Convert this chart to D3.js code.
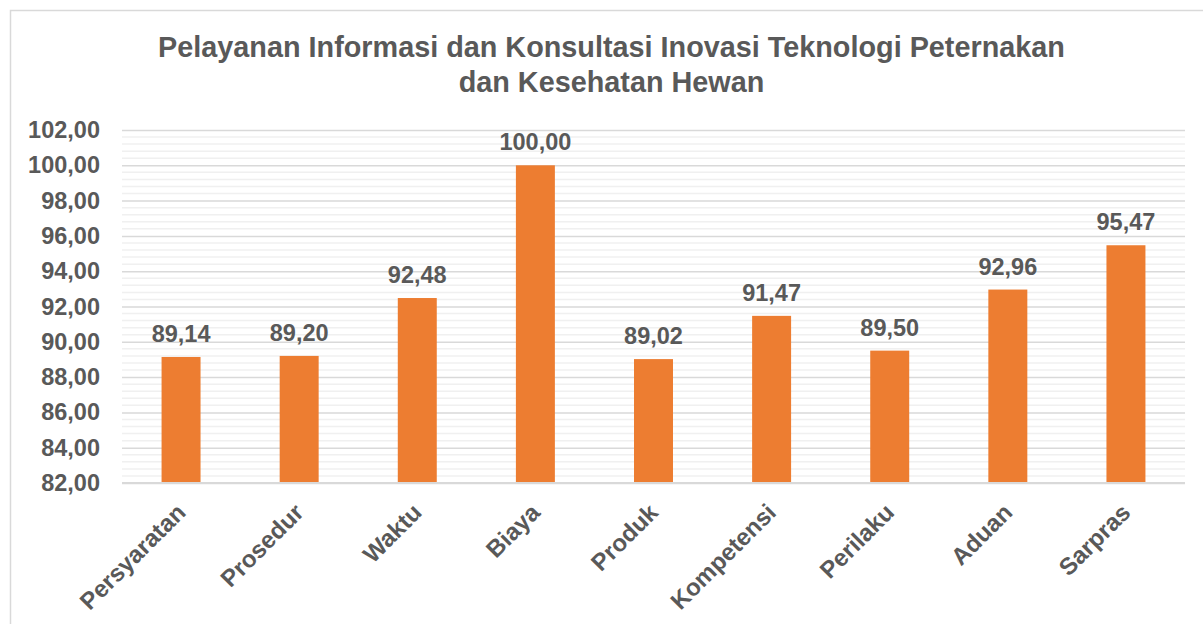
<!DOCTYPE html>
<html>
<head>
<meta charset="utf-8">
<script src="https://cdn.jsdelivr.net/npm/d3@7"></script>
<style>
  body { margin: 0; background: #fff; }
  text { font-family: "Liberation Sans", Arial, sans-serif; font-weight: bold; fill: #595959; }
</style>
</head>
<body>
<script>
// data
const categories = ["Persyaratan", "Prosedur", "Waktu", "Biaya", "Produk", "Kompetensi", "Perilaku", "Aduan", "Sarpras"];
const values = [89.14, 89.20, 92.48, 100.00, 89.02, 91.47, 89.50, 92.96, 95.47];
const yTicks = [82, 84, 86, 88, 90, 92, 94, 96, 98, 100, 102];
const titleLines = ["Pelayanan Informasi dan Konsultasi Inovasi Teknologi Peternakan", "dan Kesehatan Hewan"];

const width = 1203, height = 624;
const margin = {left: 122, right: 18, top: 130, bottom: 141};

const fmt = v => d3.format(".2f")(v).replace(".", ",");

const svg = d3.select("body").append("svg")
  .attr("width", width)
  .attr("height", height);

// chart frame (runs off the right / bottom edge like the screenshot)
svg.append("rect")
  .attr("x", 10.5).attr("y", 10.5)
  .attr("width", 1300).attr("height", 700)
  .attr("fill", "#fff")
  .attr("stroke", "#d9d9d9")
  .attr("stroke-width", 1.5);

const x = d3.scaleBand()
  .domain(categories)
  .range([margin.left, width - margin.right])
  .paddingInner(0.67)
  .paddingOuter(0.335);

const y = d3.scaleLinear()
  .domain([82, 102])
  .range([height - margin.bottom, margin.top]);

// minor gridlines
const minor = d3.range(82, 102.001, 0.4).filter(v => Math.abs(v / 2 - Math.round(v / 2)) > 0.01);
svg.append("g")
  .selectAll("line")
  .data(minor)
  .join("line")
  .attr("x1", margin.left).attr("x2", width - margin.right)
  .attr("y1", d => y(d)).attr("y2", d => y(d))
  .attr("stroke", "#f0f0f0")
  .attr("stroke-width", 1.5);

// major gridlines + y labels
const yAxis = svg.append("g")
  .attr("transform", `translate(${margin.left},0)`)
  .call(d3.axisLeft(y).tickValues(yTicks).tickFormat(fmt)
    .tickSize(-(width - margin.left - margin.right)).tickPadding(22));
yAxis.select(".domain").remove();
yAxis.selectAll(".tick line").attr("stroke", "#d9d9d9").attr("stroke-width", 1.5);
yAxis.selectAll(".tick text")
  .attr("font-size", 23.5)
  .attr("font-family", null)
  .attr("fill", null);

// bars
svg.append("g")
  .selectAll("rect")
  .data(values)
  .join("rect")
  .attr("x", (d, i) => x(categories[i]))
  .attr("y", d => y(d))
  .attr("width", x.bandwidth())
  .attr("height", d => y(82) - y(d))
  .attr("fill", "#ed7d31");

// value labels
svg.append("g")
  .selectAll("text")
  .data(values)
  .join("text")
  .attr("x", (d, i) => x(categories[i]) + x.bandwidth() / 2)
  .attr("y", d => y(d) - 15)
  .attr("text-anchor", "middle")
  .attr("font-size", 23.5)
  .text(fmt);

// x axis line
svg.append("line")
  .attr("x1", margin.left).attr("x2", width - margin.right)
  .attr("y1", y(82)).attr("y2", y(82))
  .attr("stroke", "#d9d9d9")
  .attr("stroke-width", 2);

// x labels, rotated
svg.append("g")
  .selectAll("text")
  .data(categories)
  .join("text")
  .attr("transform", d => `translate(${x(d) + x.bandwidth() / 2},${y(82) + 25}) rotate(-45)`)
  .attr("text-anchor", "end")
  .attr("dy", "0.35em")
  .attr("font-size", 24)
  .text(d => d);

// title
svg.append("g")
  .selectAll("text")
  .data(titleLines)
  .join("text")
  .attr("x", 611.5)
  .attr("y", (d, i) => 57 + i * 35)
  .attr("text-anchor", "middle")
  .attr("font-size", 28.8)
  .text(d => d);
</script>
</body>
</html>
